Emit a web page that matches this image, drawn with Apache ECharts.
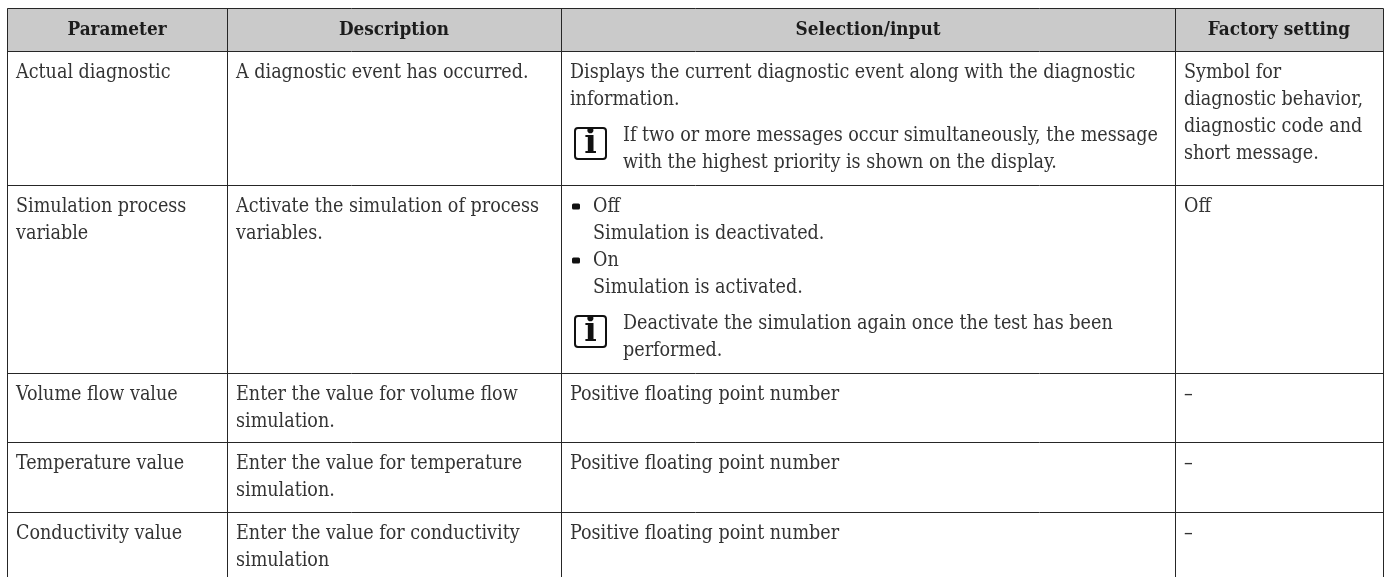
<!DOCTYPE html>
<html><head><meta charset="utf-8">
<style>html,body{margin:0;padding:0;background:#fff}#c{width:1389px;height:577px}</style>
<script src="https://cdn.jsdelivr.net/npm/echarts@6/dist/echarts.min.js"></script>
</head><body><div id="c"></div>
<script>
const columnEdges=[7,227,561,1175,1383];
const rowEdges=[8,51,185,373,442,512,577];
const headers=['Parameter','Description','Selection/input','Factory setting'];
const parameterCol=[['Actual diagnostic'],['Simulation process','variable'],['Volume flow value'],['Temperature value'],['Conductivity value']];
const descriptionCol=[['A diagnostic event has occurred.'],['Activate the simulation of process','variables.'],['Enter the value for volume flow','simulation.'],['Enter the value for temperature','simulation.'],['Enter the value for conductivity','simulation']];
const selectionCol=[
 [['p','Displays the current diagnostic event along with the diagnostic'],['p','information.'],['note','If two or more messages occur simultaneously, the message'],['noteCont','with the highest priority is shown on the display.']],
 [['bullet','Off'],['indent','Simulation is deactivated.'],['bullet','On'],['indent','Simulation is activated.'],['note','Deactivate the simulation again once the test has been'],['noteCont','performed.']],
 [['p','Positive floating point number']],[['p','Positive floating point number']],[['p','Positive floating point number']]];
const factoryCol=[['Symbol for','diagnostic behavior,','diagnostic code and','short message.'],['Off'],['–'],['–'],['–']];

const FONT='"DejaVu Serif Condensed","DejaVu Serif",serif';
const SIZE=19.55, HEAD=18.8, LH=27, FIRST=22, NOTEGAP=9, PAD=9;
const ink='#333333', rule='#262626', headFill='#cacaca';

const cells=[];
headers.forEach((t,c)=>cells.push({kind:'head',col:c,row:0,line:0,text:t}));
[parameterCol,descriptionCol,factoryCol].forEach((col,i)=>{
  const c=[0,1,3][i];
  col.forEach((lines,r)=>lines.forEach((t,l)=>cells.push({kind:'p',col:c,row:r+1,line:l,text:t})));
});
selectionCol.forEach((lines,r)=>lines.forEach((e,l)=>cells.push({kind:e[0],col:2,row:r+1,line:l,text:e[1]})));

function textItem(params,api){
  const d=cells[params.dataIndex];
  const left=columnEdges[d.col],right=columnEdges[d.col+1];
  if(d.kind==='head'){
    const p=api.coord([(left+right)/2,(rowEdges[0]+rowEdges[1])/2+0.5]);
    return {type:'text',x:p[0],y:p[1],style:{text:d.text,font:'bold '+HEAD+'px '+FONT,fill:'#1c1c1c',align:'center',verticalAlign:'middle'}};
  }
  let y=rowEdges[d.row]+FIRST+d.line*LH;
  if(d.kind==='note'||d.kind==='noteCont')y+=NOTEGAP;
  let x=left+PAD;
  if(d.kind==='bullet'||d.kind==='indent')x+=23;
  if(d.kind==='note'||d.kind==='noteCont')x+=53;
  const p=api.coord([x,y]);
  const kids=[{type:'text',x:p[0],y:p[1],style:{text:d.text,font:SIZE+'px '+FONT,fill:ink,align:'left',verticalAlign:'middle'}}];
  if(d.kind==='bullet'){
    const b=api.coord([left+PAD+2,y-3.5]);
    kids.push({type:'rect',shape:{x:b[0],y:b[1],width:8,height:6,r:1.5},style:{fill:'#111'}});
  }
  if(d.kind==='note'){
    const q=api.coord([left+PAD+5,y-8]);
    kids.push({type:'rect',shape:{x:q[0],y:q[1],width:31,height:31,r:3},style:{fill:'#fff',stroke:'#111',lineWidth:2}});
    kids.push({type:'text',x:q[0]+15.5,y:q[1]+16,style:{text:'i',font:'900 33px "DejaVu Serif"',fill:'#111',align:'center',verticalAlign:'middle'}});
  }
  return {type:'group',children:kids};
}
function gridItem(params,api){
  const kids=[];
  const a=api.coord([columnEdges[0],rowEdges[0]]),b=api.coord([columnEdges[4],rowEdges[1]]);
  kids.push({type:'rect',shape:{x:a[0],y:a[1],width:b[0]-a[0],height:b[1]-a[1]},style:{fill:headFill}});
  const line=(x1,y1,x2,y2)=>{const p=api.coord([x1,y1]),q=api.coord([x2,y2]);
    kids.push({type:'line',shape:{x1:p[0]+.5,y1:p[1]+.5,x2:q[0]+.5,y2:q[1]+.5},style:{stroke:rule,lineWidth:1}});};
  columnEdges.forEach(x=>line(x,rowEdges[0],x,rowEdges[6]));
  rowEdges.slice(0,6).forEach(y=>line(columnEdges[0],y,columnEdges[4],y));
  return {type:'group',children:kids};
}
const chart=echarts.init(document.getElementById('c'));
chart.setOption({
  animation:false,backgroundColor:'#fff',
  grid:{left:0,right:0,top:0,bottom:0},
  xAxis:{type:'value',min:0,max:1389,show:false},
  yAxis:{type:'value',min:0,max:577,inverse:true,show:false},
  tooltip:{show:false},
  series:[
   {type:'custom',coordinateSystem:'cartesian2d',silent:true,clip:false,renderItem:gridItem,data:[[0,0]]},
   {type:'custom',coordinateSystem:'cartesian2d',silent:true,clip:false,renderItem:textItem,data:cells.map((c,i)=>[i,0])}
  ]
});
</script></body></html>
